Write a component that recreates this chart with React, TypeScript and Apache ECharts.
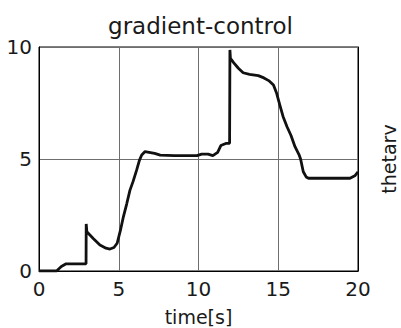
import React, { useEffect, useRef } from "react";
import * as echarts from "echarts";

const titleText = "gradient-control";
const xName = "time[s]";
const yName = "thetarv";
const xTicks = [0, 5, 10, 15, 20];
const yTicks = [0, 5, 10];

const timeValues = [
  0, 1.1, 1.4, 1.7, 2.95, 2.96, 3.0, 3.4, 3.82, 4.2, 4.45, 4.7, 4.9, 5.1, 5.29, 5.5, 5.7, 5.9,
  6.12, 6.3, 6.44, 6.65, 6.9, 7.25, 7.6, 8.5, 9.9, 10.2, 10.6, 10.9, 11.2, 11.4, 11.75, 11.95,
  11.97, 12.0, 12.2, 12.5, 12.8, 13.2, 13.75, 14.1, 14.4, 14.7, 14.9, 15.1, 15.3, 15.55, 15.8,
  16.05, 16.3, 16.4, 16.57, 16.75, 16.9, 19.5, 19.8, 20,
];
const thetarvValues = [
  0, 0, 0.2, 0.32, 0.32, 2.1, 1.75, 1.45, 1.16, 1.02, 0.98, 1.05, 1.24, 1.8, 2.42, 3.0, 3.6, 4.0,
  4.5, 4.95, 5.18, 5.33, 5.3, 5.25, 5.17, 5.15, 5.15, 5.22, 5.22, 5.15, 5.3, 5.6, 5.7, 5.7,
  9.87, 9.5, 9.3, 9.05, 8.85, 8.78, 8.72, 8.62, 8.5, 8.3, 7.93, 7.41, 6.9, 6.44, 6.05,
  5.55, 5.2, 5.0, 4.43, 4.2, 4.14, 4.14, 4.25, 4.43,
];

const FONT = "DejaVu Sans";

export default function App() {
  const ref = useRef<HTMLDivElement>(null);
  useEffect(() => {
    if (!ref.current) return;
    const chart = echarts.init(ref.current, undefined, { renderer: "svg" });
    const data = timeValues.map((t, i) => [t, thetarvValues[i]]);
    chart.setOption({
      animation: false,
      backgroundColor: "#ffffff",
      title: {
        text: titleText,
        left: "center",
        top: 9,
        textStyle: { fontFamily: FONT, fontSize: 23, fontWeight: "normal", color: "#1a1a1a" },
      },
      grid: {
        left: 39,
        right: 43,
        top: 47,
        bottom: 57,
        outerBoundsMode: "none",
        containLabel: false,
        show: true,
        borderColor: "#000000",
        borderWidth: 1,
        backgroundColor: "transparent",
      },
      xAxis: {
        type: "value",
        min: xTicks[0],
        max: xTicks[xTicks.length - 1],
        interval: 5,
        name: xName,
        nameLocation: "middle",
        nameGap: 36,
        nameTextStyle: { fontFamily: FONT, fontSize: 19, color: "#1a1a1a" },
        axisLine: { show: true, onZero: false, lineStyle: { color: "#000000", width: 1 } },
        axisTick: { show: false },
        axisLabel: { margin: 8, fontFamily: FONT, fontSize: 20, color: "#1a1a1a" },
        splitLine: { show: true, lineStyle: { color: "#6e6e6e", width: 1 } },
      },
      yAxis: [
        {
          type: "value",
          min: yTicks[0],
          max: yTicks[yTicks.length - 1],
          interval: 5,
          axisLine: { show: true, onZero: false, lineStyle: { color: "#000000", width: 1 } },
          axisTick: { show: false },
          axisLabel: { margin: 7, fontFamily: FONT, fontSize: 20, color: "#1a1a1a" },
          splitLine: { show: true, lineStyle: { color: "#6e6e6e", width: 1 } },
        },
        {
          type: "value",
          position: "right",
          min: yTicks[0],
          max: yTicks[yTicks.length - 1],
          interval: 5,
          name: yName,
          nameLocation: "middle",
          nameRotate: 90,
          nameGap: 21,
          nameTextStyle: { fontFamily: FONT, fontSize: 19, color: "#1a1a1a" },
          axisLine: { show: true, onZero: false, lineStyle: { color: "#000000", width: 1 } },
          axisTick: { show: false },
          axisLabel: { show: false },
          splitLine: { show: false },
        },
      ],
      series: [
        {
          type: "line",
          data,
          yAxisIndex: 0,
          showSymbol: false,
          symbol: "none",
          lineStyle: { color: "#111111", width: 2.8 },
        },
      ],
    });
    return () => chart.dispose();
  }, []);
  return (
    <div
      ref={ref}
      style={{ position: "absolute", left: 0, top: 0, width: 401, height: 328 }}
    />
  );
}
